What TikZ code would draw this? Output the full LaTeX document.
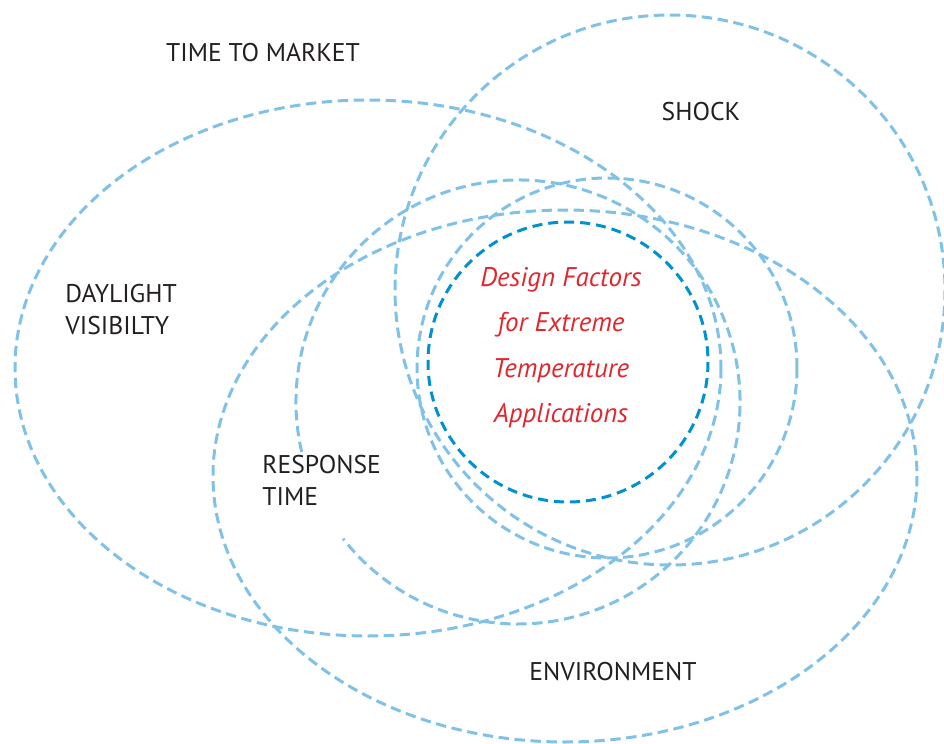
\documentclass[tikz,border=0pt]{standalone}
\usepackage{fontspec}
\setmainfont{PT Sans}
\definecolor{ringblue}{RGB}{128,193,232}
\definecolor{coreblue}{RGB}{0,146,208}
\definecolor{factorred}{RGB}{226,38,46}
\definecolor{inkgray}{RGB}{35,31,32}

\begin{document}
\begin{tikzpicture}[x=0.5pt,y=-0.5pt,
  ring/.style={draw=ringblue,line width=1.5pt,dash pattern=on 5.2pt off 2.8pt},
  core/.style={draw=coreblue,line width=1.5pt,dash pattern=on 5pt off 3pt},
  factor/.style={font=\fontsize{12.8}{16}\selectfont,text=inkgray,align=left,inner sep=0pt},
  centre/.style={font=\fontsize{13.5}{22.65}\selectfont\itshape,text=factorred,align=center,inner sep=0pt}]
\useasboundingbox (0,0) rectangle (944,744);

% rings
\draw[ring] (368,368) ellipse [x radius=353, y radius=268];
\draw[ring] (670,290) circle [radius=275];
\draw[ring] (565,476) ellipse [x radius=352, y radius=266];
\draw[ring] (607,368) circle [radius=190];
\draw[ring] (518,402) ++(167:222) arc [start angle=167, end angle=502, radius=222];
\draw[core] (568,362) circle [radius=140];

% labels
\node[factor] (market)   at (263,53)  {TIME TO MARKET};
\node[factor] (shock)    at (701,112) {SHOCK};
\node[factor,anchor=north west] (daylight) at (65,284)  {DAYLIGHT\\VISIBILTY};
\node[factor,anchor=north west] (response) at (262,455) {RESPONSE\\TIME};
\node[factor] (environ)  at (613,672) {ENVIRONMENT};
\node[centre,anchor=north] (design) at (561,267) {Design Factors\\for Extreme\\Temperature\\Applications};
\end{tikzpicture}
\end{document}
